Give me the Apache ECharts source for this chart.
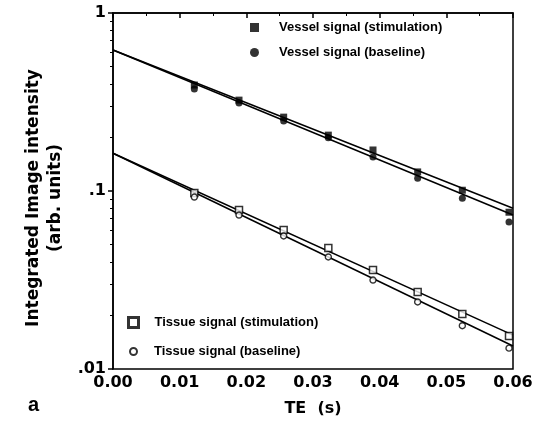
<!DOCTYPE html>
<html><head><meta charset="utf-8">
<script src="https://cdn.jsdelivr.net/npm/echarts@6/dist/echarts.min.js"></script>
<style>html,body{margin:0;padding:0;background:#fff}#c{width:554px;height:435px}</style>
</head><body><div id="c"></div>
<script>
// Echo times (s)
const te = [0.0122, 0.0189, 0.0256, 0.0323, 0.0390, 0.0457, 0.0524, 0.0594];
// Measured signals (arb. units)
const vesselStim = [0.394, 0.324, 0.260, 0.206, 0.170, 0.128, 0.101, 0.076];
const vesselBase = [0.374, 0.312, 0.247, 0.199, 0.155, 0.118, 0.091, 0.067];
const tissueStim = [0.0975, 0.0782, 0.0604, 0.0479, 0.0360, 0.0271, 0.0204, 0.0153];
const tissueBase = [0.0925, 0.0733, 0.0559, 0.0426, 0.0316, 0.0238, 0.0175, 0.0131];
// Mono-exponential fits, evaluated at the ends of the TE range
const fitTE = [0, 0.06];
const vesselStimFit = [0.62, 0.080];
const vesselBaseFit = [0.62, 0.0733];
const tissueStimFit = [0.163, 0.0155];
const tissueBaseFit = [0.163, 0.01346];
// Axis ticks
const xTicks = [0, 0.01, 0.02, 0.03, 0.04, 0.05, 0.06];
const yMajor = [0.01, 0.1, 1];
const yMinor = [0.02,0.03,0.04,0.05,0.06,0.07,0.08,0.09,0.2,0.3,0.4,0.5,0.6,0.7,0.8,0.9];
const yLabels = {'0.01': '.01', '0.1': '.1', '1': '1'};

const names = ['Vessel signal (stimulation)', 'Vessel signal (baseline)', 'Tissue signal (stimulation)', 'Tissue signal (baseline)'];

const pts = (xs, ys) => xs.map((x, i) => [x, ys[i]]);
const fitLine = (ys) => ({
  type: 'line', data: pts(fitTE, ys), symbol: 'none', silent: true, z: 2,
  lineStyle: {color: '#000', width: 1.5}
});
const lblFont = {fontFamily: 'DejaVu Sans', fontWeight: 'bold', fontSize: 16, color: '#000'};
const legFont = (pad) => ({fontFamily: 'Liberation Sans', fontWeight: 'bold', fontSize: 13, color: '#000', padding: [0, 0, 0, pad]});
const legBase = {orient: 'vertical', selectedMode: false};

const chart = echarts.init(document.getElementById('c'));
chart.setOption({
  animation: false,
  backgroundColor: '#fff',
  grid: {left: 113, right: 41, top: 13, bottom: 66, show: true, borderColor: '#000', borderWidth: 1.5, backgroundColor: 'transparent'},
  legend: [
    Object.assign({data: [names[0], names[1]], left: 245, top: 16, itemWidth: 9, itemHeight: 9, itemGap: 12, textStyle: legFont(15)}, legBase),
    Object.assign({data: [{name: names[2], itemStyle: {color: '#fff', borderColor: '#000', borderWidth: 3}}],
      left: 122, top: 311, itemWidth: 10, itemHeight: 10, textStyle: legFont(11)}, legBase),
    Object.assign({data: [names[3]], left: 124, top: 340, itemWidth: 7, itemHeight: 7, textStyle: legFont(12)}, legBase)
  ],
  xAxis: {
    type: 'value', min: 0, max: 0.06, interval: 0.01,
    name: 'TE  (s)', nameLocation: 'middle', nameGap: 32, nameTextStyle: lblFont,
    axisLine: {show: true, lineStyle: {color: '#000', width: 1.5}},
    axisTick: {show: true, inside: false, length: 5, lineStyle: {color: '#000', width: 1.5}},
    minorTick: {show: true, splitNumber: 2, length: 3, lineStyle: {color: '#000', width: 1}},
    axisLabel: Object.assign({margin: 6, formatter: v => v.toFixed(2), customValues: xTicks}, lblFont),
    splitLine: {show: false}
  },
  yAxis: [{
    type: 'log', min: 0.01, max: 1, logBase: 10, position: 'left',
    name: 'Integrated Image intensity\n(arb. units)', nameLocation: 'middle', nameGap: 46, nameRotate: 90,
    nameTextStyle: {fontFamily: 'DejaVu Sans', fontWeight: 'bold', fontSize: 17, color: '#000', lineHeight: 22, padding: [0, 14, 0, 0]},
    axisLine: {show: true, lineStyle: {color: '#000', width: 1.5}},
    axisTick: {show: true, length: 5, customValues: yMajor, lineStyle: {color: '#000', width: 1.5}},
    axisLabel: Object.assign({margin: 7, customValues: yMajor, formatter: v => yLabels[String(+v.toPrecision(3))] || ''}, lblFont),
    splitLine: {show: false}
  }, {
    // helper axis in decades (log10 units) carrying only the minor ticks
    type: 'value', min: -2, max: 0, position: 'left', offset: 0,
    axisLine: {show: false},
    axisTick: {show: true, length: 3, customValues: yMinor.map(Math.log10), lineStyle: {color: '#000', width: 1}},
    axisLabel: {show: false},
    splitLine: {show: false}
  }],
  series: [
    fitLine(vesselStimFit), fitLine(vesselBaseFit), fitLine(tissueStimFit), fitLine(tissueBaseFit),
    {name: names[0], type: 'scatter', data: pts(te, vesselStim), symbol: 'rect', symbolSize: 7, z: 5,
     itemStyle: {color: '#000'}},
    {name: names[1], type: 'scatter', data: pts(te, vesselBase), symbol: 'circle', symbolSize: 7, z: 5,
     itemStyle: {color: '#000'}},
    {name: names[2], type: 'scatter', data: pts(te, tissueStim), symbol: 'rect', symbolSize: 7, z: 5,
     itemStyle: {color: '#fff', borderColor: '#000', borderWidth: 1.5}},
    {name: names[3], type: 'scatter', data: pts(te, tissueBase), symbol: 'circle', symbolSize: 6, z: 5,
     itemStyle: {color: '#fff', borderColor: '#000', borderWidth: 1.4}}
  ],
  graphic: [{type: 'text', left: 28, top: 395, style: {text: 'a', font: 'bold 20px "Liberation Sans"', fill: '#000'}}]
});
</script></body></html>
